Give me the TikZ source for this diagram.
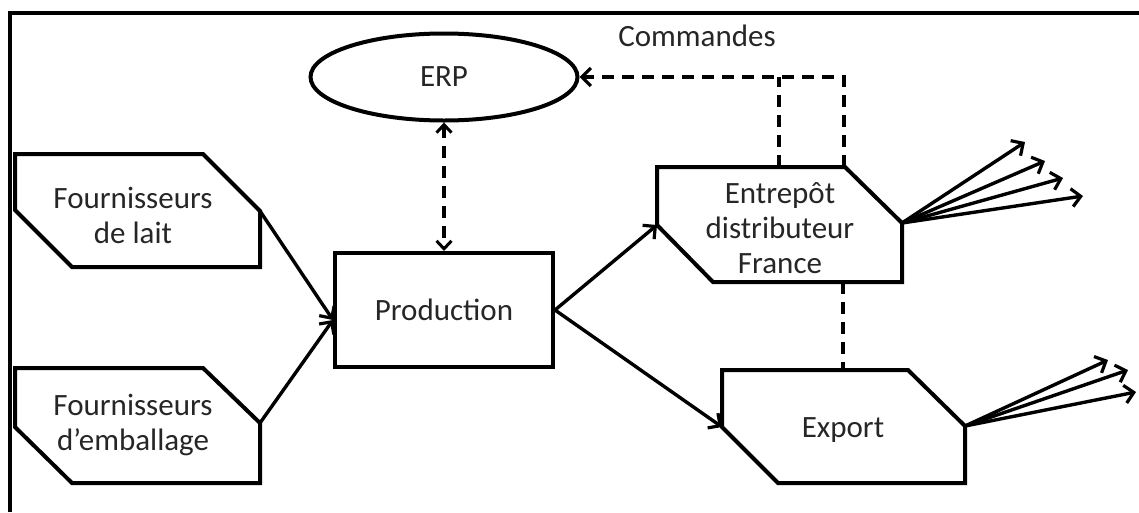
\documentclass[tikz,border=0pt]{standalone}
\usepackage{fontspec}
\setmainfont{Carlito}
\usetikzlibrary{arrows.meta,shapes.geometric}
\tikzset{
  shp/.style={draw=black, line width=4pt, line join=miter},
  lbl/.style={font=\fontsize{31}{35}\selectfont, align=center, text=black!85},
  tip/.style={-{Straight Barb[length=9pt,width=18pt,line width=3.2pt]}},
  arr/.style={tip, line width=3.4pt},
  dsh/.style={dash pattern=on 12pt off 8pt, line width=3.8pt}}
\begin{document}
\begin{tikzpicture}[x=1pt,y=-1pt]
\useasboundingbox (0,0) rectangle (1139,512);
% frame (cropped)
\draw[line width=3.8pt] (10,512) |- (1139,13);

% supplier shapes
\draw[shp] (15,154) -- (203,154) -- (260,211) -- (260,267) -- (72,267) -- (15,210) -- cycle;
\coordinate (lait) at (260,211);
\node[lbl] (laittxt) at (133,215) {Fournisseurs\\de lait};

\draw[shp] (15,368) -- (203,368) -- (260,423) -- (260,483) -- (72,483) -- (15,427) -- cycle;
\coordinate (emb) at (260,423);
\node[lbl] (embtxt) at (133,425) {Fournisseurs\\d’emballage};

% production
\node[shp, lbl, minimum width=218pt, minimum height=114pt] (prod) at (444,310) {Production};

% ERP
\node[shp, lbl, ellipse, minimum width=267pt, minimum height=87pt] (erp) at (444,77) {ERP};

% Entrepot
\draw[shp] (657,167) -- (845,167) -- (902,223) -- (902,282) -- (713,282) -- (657,225) -- cycle;
\coordinate (entin) at (657,225);
\coordinate (entout) at (902,223);
\coordinate (enttop) at (779,167);
\coordinate (enttr) at (844,167);
\coordinate (entbot) at (843,282);
\node[lbl] (enttxt) at (780,228) {Entrepôt\\distributeur\\France};

% Export
\draw[shp] (722,370) -- (908,370) -- (965,426) -- (965,483) -- (778,483) -- (722,427) -- cycle;
\coordinate (expin) at (722,427);
\coordinate (expout) at (965,426);
\coordinate (exptop) at (843,370);
\node[lbl] (exptxt) at (843,430) {Export};

% Commandes label
\node[lbl] (cmd) at (697,36) {Commandes};

% solid connectors
\draw[arr] (lait) -- ([yshift=-10pt]prod.west);
\draw[arr] (emb) -- ([yshift=-10pt]prod.west);
\draw[arr] (prod.east) -- (entin);
\draw[arr] (prod.east) -- (expin);

% fan-out from Entrepot
\coordinate (f1) at (1025,142);
\coordinate (f2) at (1045,161);
\coordinate (f3) at (1063,178);
\coordinate (f4) at (1083,196);
\foreach \t in {f1,f2,f3,f4} \draw[arr] (entout) -- (\t);

% fan-out from Export
\coordinate (g1) at (1108,360);
\coordinate (g2) at (1128,370);
\coordinate (g3) at (1136,392);
\foreach \t in {g1,g2,g3} \draw[arr] (expout) -- (\t);

% dashed connectors
\draw[dsh, {Straight Barb[length=8pt,width=15pt,line width=3pt]}-{Straight Barb[length=8pt,width=15pt,line width=3pt]}] (erp.south) -- (prod.north);
\draw[dsh, tip] (enttr) |- (erp.east);
\draw[dsh] (enttop) -- (enttop |- erp.east);
\draw[dsh] (entbot) -- (exptop);
\end{tikzpicture}
\end{document}
